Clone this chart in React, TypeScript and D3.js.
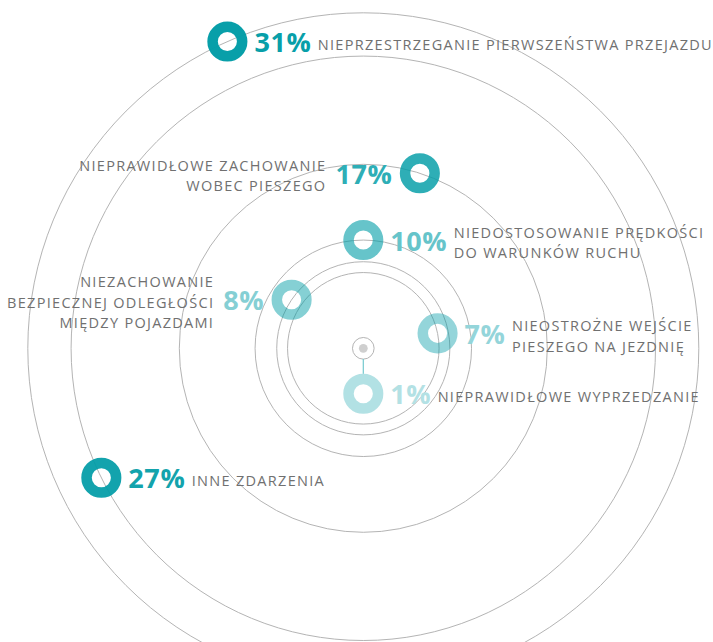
import React from "react";
import * as d3 from "d3";

// ---- data ----
const values = [31, 27, 17, 10, 8, 7, 1];
const angles = [-23.9, -116.3, 17.9, 0, -55.9, 78.6, 180]; // degrees, clockwise from top
const labels: string[][] = [
  ["NIEPRZESTRZEGANIE PIERWSZEŃSTWA PRZEJAZDU"],
  ["INNE ZDARZENIA"],
  ["NIEPRAWIDŁOWE ZACHOWANIE", "WOBEC PIESZEGO"],
  ["NIEDOSTOSOWANIE PRĘDKOŚCI", "DO WARUNKÓW RUCHU"],
  ["NIEZACHOWANIE", "BEZPIECZNEJ ODLEGŁOŚCI", "MIĘDZY POJAZDAMI"],
  ["NIEOSTROŻNE WEJŚCIE", "PIESZEGO NA JEZDNIĘ"],
  ["NIEPRAWIDŁOWE WYPRZEDZANIE"],
];
const labelSides = ["right", "right", "left", "right", "left", "right", "right"];

// ---- layout ----
const W = 713;
const H = 642;
const CX = 363.3;
const CY = 348.3;
const BASE = "#009ca6";
const MIN_RING_R = 45.5;
const RING_R = 14.8;
const RING_W = 10.5;
const PCT_SIZE = 27;
const PCT_LS = 0.6;
const LABEL_SIZE = 14.5;
const LABEL_LS = 1.3;
const LINE_H = 20.5;

const rScale = d3.scaleLinear().domain([0, 31]).range([0, 335.5]);
const opacityScale = d3
  .scaleLinear()
  .domain([1, 7, 10, 17, 31])
  .range([0.3, 0.42, 0.6, 0.82, 0.97])
  .clamp(true);

let ctx: CanvasRenderingContext2D | null = null;
function measure(text: string, font: string, ls: number) {
  if (!ctx) ctx = document.createElement("canvas").getContext("2d");
  if (!ctx) return text.length * 15;
  ctx.font = font;
  return ctx.measureText(text).width + ls * (text.length - 1);
}

export default function App() {
  const pctFont = `bold ${PCT_SIZE}px "Open Sans"`;
  const items = values.map((v, i) => {
    const a = (angles[i] * Math.PI) / 180;
    const rv = rScale(v);
    const rr = Math.max(rv, MIN_RING_R);
    const x = CX + rr * Math.sin(a);
    const y = CY - rr * Math.cos(a);
    const op = opacityScale(v);
    const solid = d3.interpolateRgb("#ffffff", BASE)(op);
    return { v, i, rv, rr, x, y, op, solid };
  });

  return (
    <svg
      width={W}
      height={H}
      style={{ position: "absolute", left: 0, top: 0, background: "#fff" }}
      fontFamily='"Open Sans", sans-serif'
    >
      {/* concentric circles */}
      {items.map((d) => (
        <circle
          key={"c" + d.i}
          cx={CX}
          cy={CY}
          r={d.rv}
          fill="none"
          stroke="#b4b4b4"
          strokeWidth={1}
        />
      ))}
      {/* center */}
      <circle cx={CX} cy={CY} r={4.4} fill="#cfcfcf" />
      {/* connectors when ring pushed out */}
      {items
        .filter((d) => d.rr > d.rv)
        .map((d) => {
          const a = (angles[d.i] * Math.PI) / 180;
          return (
            <line
              key={"l" + d.i}
              x1={CX + d.rv * Math.sin(a)}
              y1={CY - d.rv * Math.cos(a)}
              x2={CX + (d.rr - RING_R - RING_W / 2) * Math.sin(a)}
              y2={CY - (d.rr - RING_R - RING_W / 2) * Math.cos(a)}
              stroke={d3.interpolateRgb("#ffffff", BASE)(0.55)}
              strokeWidth={1.2}
            />
          );
        })}
      {/* rings */}
      {items.map((d) => (
        <circle
          key={"r" + d.i}
          cx={d.x}
          cy={d.y}
          r={RING_R}
          fill="none"
          stroke={BASE}
          strokeOpacity={d.op}
          strokeWidth={RING_W}
        />
      ))}
      {/* texts */}
      {items.map((d) => {
        const pct = `${d.v}%`;
        const pw = measure(pct, pctFont, PCT_LS);
        const side = labelSides[d.i];
        const lines = labels[d.i];
        const n = lines.length;
        const firstBase = d.y + 3 + 5 - ((n - 1) * LINE_H) / 2;
        let pctX: number, labX: number, anchor: "start" | "end";
        if (side === "right") {
          pctX = d.x + 27;
          labX = pctX + pw + 7;
          anchor = "start";
        } else {
          pctX = d.x - 28 - pw;
          labX = pctX - 9;
          anchor = "end";
        }
        return (
          <g key={"t" + d.i}>
            <text
              x={pctX}
              y={d.y + 10.5}
              fontSize={PCT_SIZE}
              fontWeight={700}
              letterSpacing={PCT_LS}
              fill={d.solid}
            >
              {pct}
            </text>
            <text
              fontSize={LABEL_SIZE}
              fill="#707070"
              letterSpacing={LABEL_LS}
              textAnchor={anchor}
            >
              {lines.map((ln, k) => (
                <tspan key={k} x={labX} y={firstBase + k * LINE_H}>
                  {ln}
                </tspan>
              ))}
            </text>
          </g>
        );
      })}
    </svg>
  );
}
